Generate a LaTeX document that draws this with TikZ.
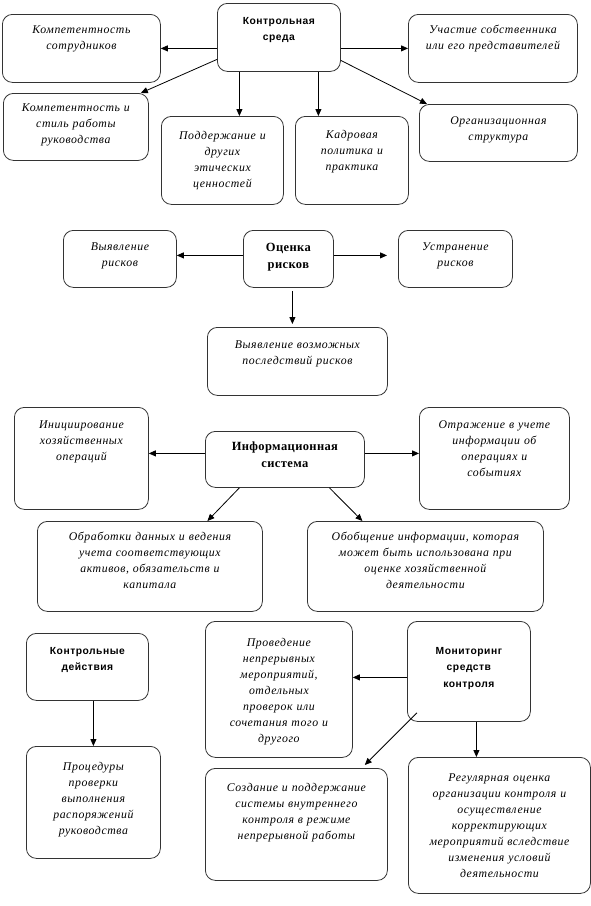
\documentclass[tikz,border=0pt]{standalone}
\usepackage{fontspec}
\setmainfont{Liberation Serif}
\newfontfamily\boxit{Liberation Serif}[LetterSpace=5]
\newfontfamily\headsans{Liberation Sans}[LetterSpace=5]
\newfontfamily\headserif{Liberation Serif}[LetterSpace=3]
\usetikzlibrary{positioning, arrows.meta}

\begin{document}
\begin{tikzpicture}[x=1pt, y=-1pt,
    blk/.style n args={3}{draw=black!80, line width=0.8pt, rounded corners=10pt, anchor=north west, align=center,
        minimum width=#1, text width=#1-6pt, inner xsep=3pt, inner ysep=0pt, text height=#3, text depth=#2-#3,
        font=\boxit\itshape\fontsize{11.8}{16}\selectfont},
    hsans/.style={font=\headsans\bfseries\fontsize{10.3}{16.5}\selectfont},
    hserif/.style={font=\headserif\bfseries\fontsize{12.5}{17.5}\selectfont},
    arr/.style={-{Triangle[length=7pt, width=6pt]}, line width=0.8pt}]
    \useasboundingbox (0,0) rectangle (591,906);

    % Control environment
    \node[blk={123}{68}{21}, hsans] (ksreda) at (217,3) {Контрольная\\среда};
    \node[blk={158}{68}{19}] (kompsotr) at (2,14) {Компетентность\\сотрудников};
    \node[blk={169}{68}{19}] (uchast) at (408,14) {Участие собственника\\или его представителей};
    \node[blk={145}{67}{18}] (kompstil) at (3,93) {Компетентность и\\стиль работы\\руководства};
    \node[blk={122}{88}{23}] (podderzh) at (161,116) {Поддержание и\\других\\этических\\ценностей};
    \node[blk={113}{88}{22}] (kadr) at (295,116) {Кадровая\\политика и\\практика};
    \node[blk={158}{57}{20}] (orgstr) at (419,104) {Организационная\\структура};

    \draw[arr] ([yshift=-11pt]ksreda.west) -- (kompsotr.east);
    \draw[arr] ([yshift=-11pt]ksreda.east) -- (uchast.west);
    \draw[arr] ([yshift=-22pt]ksreda.west) -- ([xshift=-8pt]kompstil.north east);
    \draw[arr] ([xshift=-39.5pt]ksreda.south) -- ([xshift=17pt]podderzh.north);
    \draw[arr] ([xshift=39.5pt]ksreda.south) -- ([xshift=-33.5pt]kadr.north);
    \draw[arr] ([yshift=-23pt]ksreda.east) -- ([xshift=8pt]orgstr.north west);

    % Risk assessment
    \node[blk={113}{57}{20}] (vyyavl) at (63,230) {Выявление\\рисков};
    \node[blk={90}{57}{21}, hserif] (ocenka) at (243,230) {Оценка\\рисков};
    \node[blk={114}{57}{20}] (ustran) at (398,230) {Устранение\\рисков};
    \node[blk={180}{68}{21}] (posled) at (207,327) {Выявление возможных\\последствий рисков};

    \draw[arr] ([yshift=3.5pt]ocenka.west) -- ([yshift=3.5pt]vyyavl.east);
    \draw[arr] ([yshift=3.5pt]ocenka.east) -- ([xshift=-11pt, yshift=3.5pt]ustran.west);
    \draw[arr] ([xshift=4pt, yshift=-3pt]ocenka.south) -- ([xshift=-5pt, yshift=3pt]posled.north);

    % Information system
    \node[blk={134}{102}{21}] (inic) at (14,407) {Инициирование\\хозяйственных\\операций};
    \node[blk={159}{56}{19}, hserif] (infsys) at (205,431) {Информационная\\система};
    \node[blk={150}{102}{21}] (otraz) at (419,407) {Отражение в учете\\информации об\\операциях и\\событиях};
    \node[blk={225}{90}{19}] (obrab) at (37,521) {Обработки данных и ведения\\учета соответствующих\\активов, обязательств и\\капитала};
    \node[blk={236}{90}{19}] (obobsch) at (307,521) {Обобщение информации, которая\\может быть использована при\\оценке хозяйственной\\деятельности};

    \draw[arr] ([yshift=6pt]infsys.west) -- ([yshift=5pt]inic.east);
    \draw[arr] ([yshift=6pt]infsys.east) -- ([yshift=5pt]otraz.west);
    \draw[arr] ([xshift=-45.5pt]infsys.south) -- ([xshift=57.5pt]obrab.north);
    \draw[arr] ([xshift=44.5pt]infsys.south) -- ([xshift=-63pt]obobsch.north);

    % Control activities and monitoring
    \node[blk={122}{67}{21}, hsans] (kdeist) at (26,633) {Контрольные\\действия};
    \node[blk={134}{112}{24}] (proced) at (26,746) {Процедуры\\проверки\\выполнения\\распоряжений\\руководства};
    \node[blk={147}{136}{25}] (proved) at (205,621) {Проведение\\непрерывных\\мероприятий,\\отдельных\\проверок или\\сочетания того и\\другого};
    \node[blk={123}{100}{33}, hsans] (monit) at (407,621) {Мониторинг\\средств\\контроля};
    \node[blk={182}{112}{23}] (sozd) at (205,768) {Создание и поддержание\\системы внутреннего\\контроля в режиме\\непрерывной работы};
    \node[blk={182}{136}{24}] (regul) at (408,757) {Регулярная оценка\\организации контроля и\\осуществление\\корректирующих\\мероприятий вследствие\\изменения условий\\деятельности};

    \draw[arr] ([xshift=6pt]kdeist.south) -- (proced.north);
    \draw[arr] ([yshift=-6pt]monit.west) -- ([yshift=12pt]proved.east);
    \draw[arr] ([xshift=10pt, yshift=9pt]monit.south west) -- ([xshift=-23pt, yshift=3pt]sozd.north east);
    \draw[arr] ([xshift=7.5pt]monit.south) -- ([xshift=-23pt]regul.north);
\end{tikzpicture}
\end{document}
